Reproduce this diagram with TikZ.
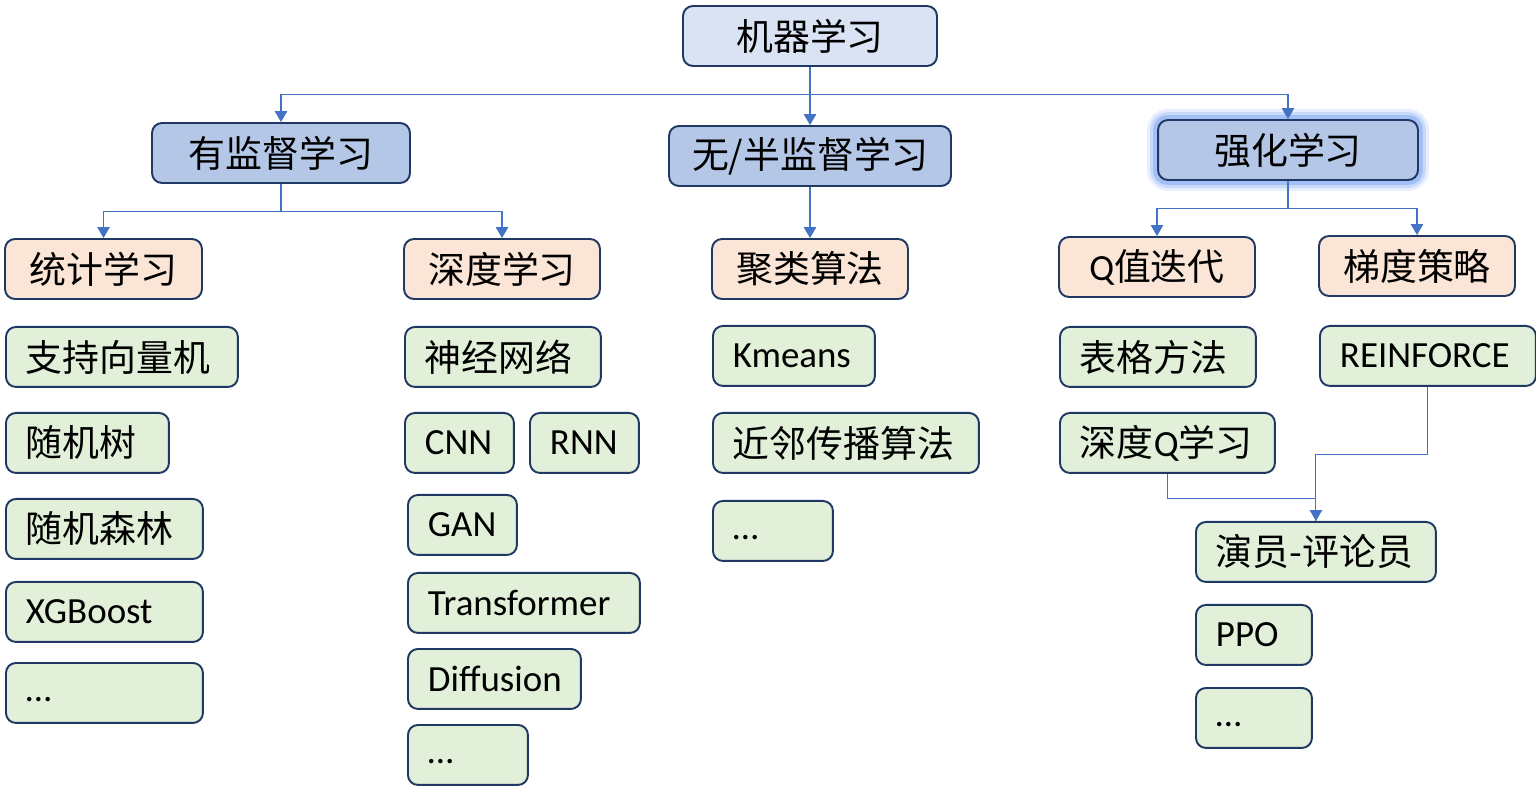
\documentclass[tikz,border=0pt]{standalone}
\usepackage{fontspec}
\setmainfont{Carlito}
\newfontfamily\cjk{Noto Sans CJK SC}
\usetikzlibrary{arrows.meta, positioning}
\definecolor{topc}{HTML}{DAE3F3}
\definecolor{catc}{HTML}{B4C7E7}
\definecolor{subc}{HTML}{FBE5D6}
\definecolor{leafc}{HTML}{E2F0D9}
\definecolor{edgec}{HTML}{1F3864}
\definecolor{linec}{HTML}{4472C4}
\definecolor{glowc}{HTML}{5B8FF0}
\newcommand{\latn}[1]{{\rmfamily #1}}

\begin{document}
\begin{tikzpicture}[x=0.02cm, y=-0.02cm,
    font=\fontsize{21}{25}\cjk,
    box/.style={draw=edgec,line width=1.1pt,rounded corners=0.2cm,minimum height=1.2cm,inner xsep=0.4cm},
    cat/.style={box,fill=catc,align=center},
    sub/.style={box,fill=subc,align=center,minimum width=3.92cm},
    leaf/.style={box,fill=leafc,align=left,anchor=north west,text width=#1},
    en/.style={font=\fontsize{21}{25}\selectfont\rmfamily},
    dots/.style={en,execute at begin node=\vphantom{Kg}},
    glow/.style={preaction={draw=glowc,line width=0.44cm,opacity=0.15},
                 preaction={draw=glowc,line width=0.32cm,opacity=0.22},
                 preaction={draw=glowc,line width=0.2cm,opacity=0.35}},
    arr/.style={-{Triangle[length=0.22cm,width=0.25cm]},draw=linec,line width=0.6pt}]
    \useasboundingbox (0,0) rectangle (1536,800);
    % top levels
    \node[box,fill=topc,minimum width=5.08cm](ml) at (810,36){机器学习};
    \node[cat,minimum width=5.16cm](sup) at (281,153){有监督学习};
    \node[cat,minimum width=5.64cm](uns) at (810,156){无/半监督学习};
    \node[cat,glow,minimum width=5.2cm](rl) at (1288,150){强化学习};
    \node[sub,minimum width=3.94cm](stat) at (103.5,269){统计学习};
    \node[sub](dl) at (502,269){深度学习};
    \node[sub](clu) at (810,269){聚类算法};
    \node[sub](qv) at (1157,267){\latn{Q}值迭代};
    \node[sub](pg) at (1417,266){梯度策略};
    % supervised leaves
    \node[leaf=3.84cm](svm) at (5,326){支持向量机};
    \node[leaf=2.46cm](rt) at (5,412){随机树};
    \node[leaf=3.14cm](rf) at (5,498){随机森林};
    \node[leaf=3.14cm,en](xgb) at (5,581){XGBoost};
    \node[leaf=3.14cm,dots](sdots) at (5,662){…};
    \node[leaf=3.12cm](nn) at (404,326){神经网络};
    \node[leaf=1.38cm,en](cnn) at (404,412){CNN};
    \node[leaf=1.38cm,en](rnn) at (529,412){RNN};
    \node[leaf=1.38cm,en](gan) at (407,494){GAN};
    \node[leaf=3.84cm,en](tf) at (407,572){Transformer};
    \node[leaf=2.66cm,en](diff) at (407,648){Diffusion};
    \node[leaf=1.6cm,dots](ddots) at (407,724){…};
    % unsupervised leaves
    \node[leaf=2.44cm,en](km) at (712,325){Kmeans};
    \node[leaf=4.52cm](ap) at (712,412){近邻传播算法};
    \node[leaf=1.6cm,dots](cdots) at (712,500){…};
    % rl leaves
    \node[leaf=3.12cm](tab) at (1059,326){表格方法};
    \node[leaf=3.5cm](dqn) at (1059,412){深度\latn{Q}学习};
    \node[leaf=3.52cm,en](reinf) at (1319,325){REINFORCE};
    \node[leaf=4.0cm](ac) at (1195,521){演员-评论员};
    \node[leaf=1.52cm,en](ppo) at (1195,604){PPO};
    \node[leaf=1.52cm,dots](rdots) at (1195,687){…};
    % connectors
    \draw[arr](ml.south)--++(0,28)-|(sup.north);
    \draw[arr](ml.south)--(uns.north);
    \draw[arr](ml.south)--++(0,28)-|(rl.north);
    \draw[arr](sup.south)--++(0,28)-|(stat.north);
    \draw[arr](sup.south)--++(0,28)-|(dl.north);
    \draw[arr](uns)--(clu);
    \draw[arr](rl.south)--++(0,28)-|(qv.north);
    \draw[arr](rl.south)--++(0,28)-|(pg.north);
    \draw[arr](reinf.south)--++(0,68)-|(ac.north);
    \draw[draw=linec,line width=0.6pt](dqn.south)--++(0,25)-|(ac.north);
  \end{tikzpicture}
\end{document}
